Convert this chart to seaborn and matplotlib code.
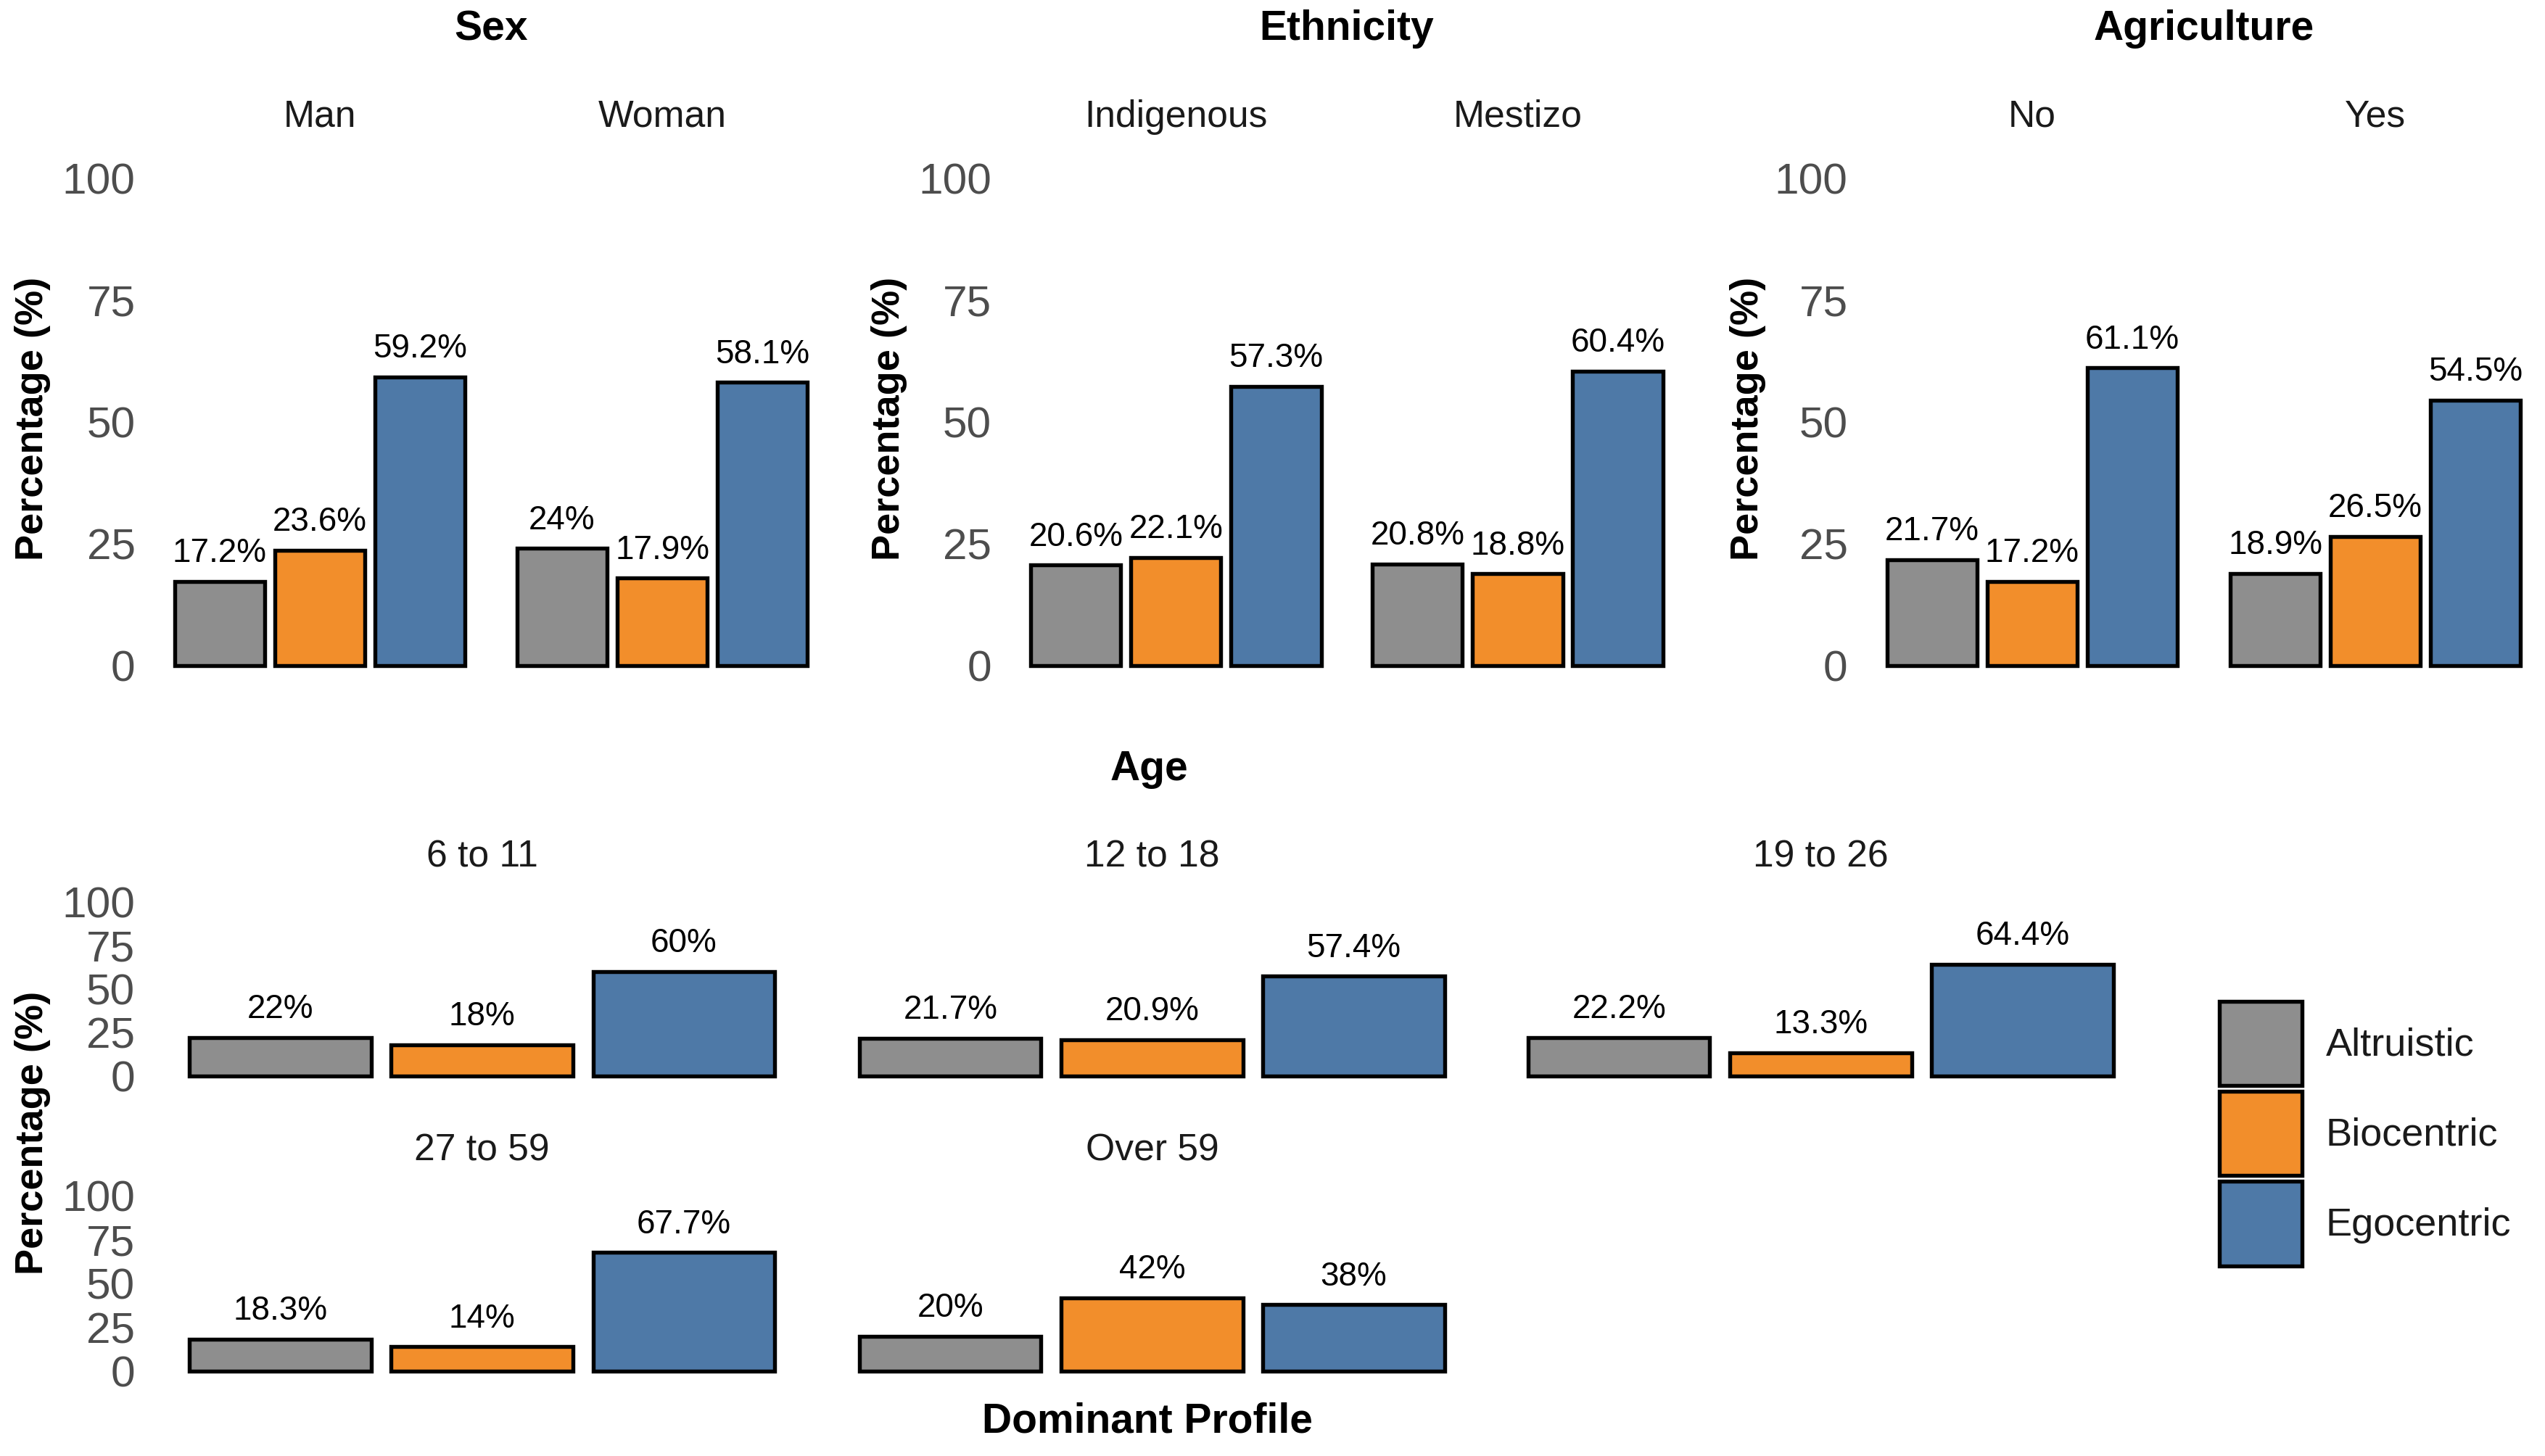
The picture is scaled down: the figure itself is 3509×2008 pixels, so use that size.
import matplotlib.pyplot as plt
import seaborn as sns
import pandas as pd
from matplotlib.patches import Rectangle

sns.set_style('white')
plt.rcParams['font.family'] = ['Liberation Sans', 'DejaVu Sans']

# Dominant profile categories and their fill colours
profiles = ['Altruistic', 'Biocentric', 'Egocentric']
profile_colors = ['#8E8E8E', '#F28E2B', '#4E79A7']

# Top row facets
sex_groups = ['Man', 'Woman']
sex_values = [[17.2, 23.6, 59.2], [24, 17.9, 58.1]]

ethnicity_groups = ['Indigenous', 'Mestizo']
ethnicity_values = [[20.6, 22.1, 57.3], [20.8, 18.8, 60.4]]

agriculture_groups = ['No', 'Yes']
agriculture_values = [[21.7, 17.2, 61.1], [18.9, 26.5, 54.5]]

# Bottom block facets
age_groups = ['6 to 11', '12 to 18', '19 to 26', '27 to 59', 'Over 59']
age_values = [[22, 18, 60], [21.7, 20.9, 57.4], [22.2, 13.3, 64.4],
              [18.3, 14, 67.7], [20, 42, 38]]

y_ticks = [0, 25, 50, 75, 100]

# layout is measured on a 1568 px wide grid
W = 1568
H = 2008 * W / 3509

fig = plt.figure(figsize=(3509 / 300, 2008 / 300), dpi=300)
EDGE = 1.3


def fx(x):
    return x / W


def fy(y):
    return 1 - y / H


def add_panel(xc, unit, y0, y100, values, show_y):
    """One facet panel; xc = centre of middle bar, y0/y100 = grid rows of 0 and 100."""
    per = (y0 - y100) / 100
    left, right = xc - 1.6 * unit, xc + 1.6 * unit
    bottom, top = y0 + 5 * per, y100 - 5 * per
    ax = fig.add_axes([fx(left), fy(bottom), fx(right) - fx(left), fy(top) - fy(bottom)])
    df = pd.DataFrame({'Profile': profiles, 'Percentage': values})
    sns.barplot(data=df, x='Profile', y='Percentage', hue='Profile', order=profiles,
                hue_order=profiles, palette=profile_colors, saturation=1, width=0.9,
                edgecolor='black', linewidth=EDGE, legend=False, ax=ax)
    for c in ax.containers:
        ax.bar_label(c, labels=[f'{v:g}%' for v in c.datavalues], padding=4,
                     fontsize=11, color='black')
    ax.set_xlim(-0.6, 2.6)
    ax.set_ylim(-5, 105)
    ax.set_xticks([])
    ax.set_yticks(y_ticks)
    ax.set_xlabel('')
    ax.set_ylabel('')
    ax.tick_params(axis='y', length=0, pad=8, labelsize=14.5, colors='#4D4D4D')
    if not show_y:
        ax.set_yticklabels([])
    for s in ax.spines.values():
        s.set_visible(False)
    ax.patch.set_alpha(0)
    return ax


def strip(x, y, text):
    fig.text(fx(x), fy(y), text, ha='center', va='center', fontsize=12.4, color='#1A1A1A')


def title(x, y, text):
    fig.text(fx(x), fy(y), text, ha='center', va='center', fontsize=13.7,
             fontweight='bold', color='black')


def ylab(x, y):
    fig.text(fx(x), fy(y), 'Percentage (%)', ha='center', va='center', rotation=90,
             fontsize=13, fontweight='bold', color='black')


# top row: Sex, Ethnicity, Agriculture
top_unit = 61.7
top_blocks = [
    ('Sex', sex_groups, sex_values, [197, 408], 20),
    ('Ethnicity', ethnicity_groups, ethnicity_values, [724.5, 935], 548),
    ('Agriculture', agriculture_groups, agriculture_values, [1252, 1463.5], 1077),
]
for name, groups, vals, centres, ylx in top_blocks:
    for i, (g, v, xc) in enumerate(zip(groups, vals, centres)):
        add_panel(xc, top_unit, 410, 110, v, i == 0)
        strip(xc, 72, g)
    title((centres[0] + centres[1]) / 2, 18, name)
    ylab(ylx, 258)

# bottom block: Age
bot_unit = 124.3
age_pos = [(297, 663, 556), (709.8, 663, 556), (1121.8, 663, 556),
           (297, 845, 737), (709.8, 845, 737)]
for g, v, (xc, y0, y100) in zip(age_groups, age_values, age_pos):
    add_panel(xc, bot_unit, y0, y100, v, xc < 400)
    strip(xc, y100 - 28, g)
title(708, 474, 'Age')
ylab(20, 698)
title(707, 876, 'Dominant Profile')

# legend drawn as ggplot-style square keys
leg = fig.add_axes([0, 0, 1, 1])
leg.set_xlim(0, W)
leg.set_ylim(H, 0)
leg.axis('off')
leg.patch.set_alpha(0)
for i, (p, c) in enumerate(zip(profiles, profile_colors)):
    y_top = 617 + i * 55.5
    leg.add_patch(Rectangle((1367.5, y_top), 51, 52, facecolor=c, edgecolor='black',
                            linewidth=EDGE))
    leg.text(1433, y_top + 27, p, ha='left', va='center', fontsize=13, color='#1A1A1A')

fig.savefig('out.png', dpi=300)
